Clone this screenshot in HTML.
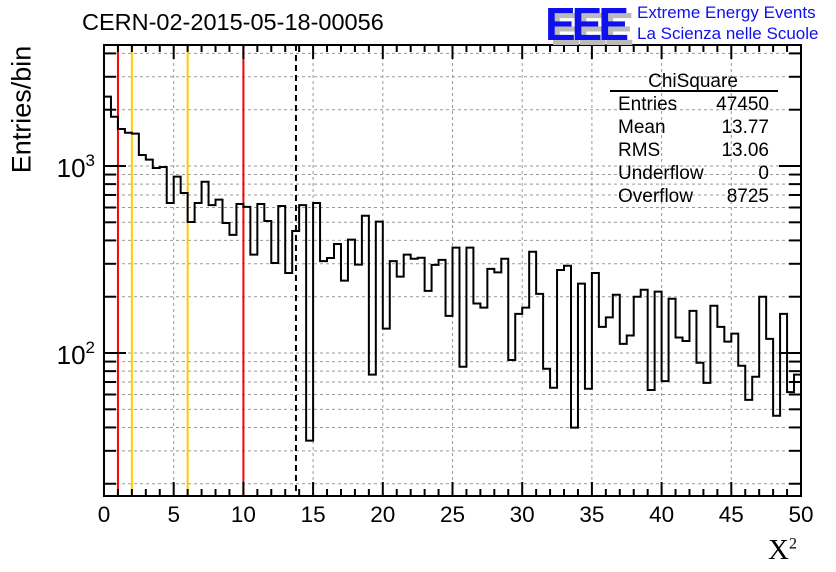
<!DOCTYPE html>
<html><head><meta charset="utf-8"><style>
html,body{margin:0;padding:0;background:#fff;}
svg{display:block;font-family:"Liberation Sans",sans-serif;}
</style></head><body>
<svg id="c" width="836" height="572" viewBox="0 0 836 572"></svg>
<script>
const binEdgesMin = 0, binEdgesMax = 50;
const counts = [2350,1835,1577,1506,1489,1145,1081,976,988,634,877,717,502,634,824,618,661,496,428,626,605,336,626,508,303,611,268,449,618,34,634,310,322,383,244,404,297,542,76.6,504,135,310,256,336,319,323,215,296,315,158,366,84.5,366,184,175,282,270,319,91.8,162,175,348,207,82.4,65.2,278,293,39.9,235,64.4,268,138,155,205,112,124,200,218,63.4,213,70.8,195,121,116,168,88.7,69.3,179,138,115,127,85.5,56.2,74.7,200,119,46.2,162,61.8,76.6];
const xTicks = [0,5,10,15,20,25,30,35,40,45,50];
const yMajor = [100,1000];
const redLines = [1,10];
const orangeLines = [2,6];
const meanLine = [13.77];
const statsLabels = ["Entries","Mean","RMS","Underflow","Overflow"];
const statsValues = ["47450","13.77","13.06","0","8725"];

const X0=104,X1=801,Y0=45,Y1=496;
const yMin=17.2,yMax=4436;
const NS="http://www.w3.org/2000/svg";
const svg=document.getElementById('c');
function sx(v){return X0+(v-binEdgesMin)/(binEdgesMax-binEdgesMin)*(X1-X0);}
function sy(v){return Y1-(Math.log10(v)-Math.log10(yMin))/(Math.log10(yMax)-Math.log10(yMin))*(Y1-Y0);}
function mk(tag,attrs,parent){const e=document.createElementNS(NS,tag);for(const k in attrs)e.setAttribute(k,attrs[k]);(parent||svg).appendChild(e);return e;}

const grid=mk('g',{});


xTicks.forEach(t=>{if(t>0&&t<50)mk('line',{x1:sx(t),x2:sx(t),y1:Y0,y2:Y1,stroke:'#999','stroke-dasharray':'3,3','stroke-width':1},grid);});
for(let d=10;d<=1000;d*=10){for(let m=1;m<10;m++){const v=d*m;if(v>yMin&&v<yMax)mk('line',{x1:X0,x2:X1,y1:sy(v),y2:sy(v),stroke:'#999','stroke-dasharray':'3,3','stroke-width':1},grid);}}

redLines.forEach(v=>{const l=mk('line',{x1:sx(v),x2:sx(v),y1:Y0,y2:Y1,stroke:'#f00','stroke-width':2});

});
orangeLines.forEach(v=>{const l=mk('line',{x1:sx(v),x2:sx(v),y1:Y0,y2:Y1,stroke:'#fc0','stroke-width':2});

});
meanLine.forEach(v=>{const l=mk('line',{x1:sx(v),x2:sx(v),y1:Y0,y2:Y1,stroke:'#000','stroke-width':2,'stroke-dasharray':'6,4'});

});

const bw=(binEdgesMax-binEdgesMin)/counts.length;
let d='M'+sx(0)+','+Y1;
counts.forEach((c,i)=>{const y=Math.min(Y1,Math.max(Y0,sy(c)));d+=' L'+sx(i*bw)+','+y+' L'+sx((i+1)*bw)+','+y;});
const h=mk('path',{d:d,fill:'none',stroke:'#000','stroke-width':2});



const fr=mk('rect',{x:X0,y:Y0,width:X1-X0,height:Y1-Y0,fill:'none',stroke:'#000','stroke-width':2});



for(let t=0;t<=50;t++){const major=t%5===0;const L=major?14:7;
mk('line',{x1:sx(t),x2:sx(t),y1:Y1,y2:Y1-L,stroke:'#000','stroke-width':2});
mk('line',{x1:sx(t),x2:sx(t),y1:Y0,y2:Y0+L,stroke:'#000','stroke-width':2});}
xTicks.forEach(t=>{const tx=mk('text',{x:sx(t),y:522,'font-size':22.5,'text-anchor':'middle'});tx.textContent=t;

});
for(let dd=10;dd<=1000;dd*=10){for(let m=1;m<10;m++){const v=dd*m;if(v>yMin&&v<yMax){const L=m===1?22:12;
mk('line',{x1:X0,x2:X0+L,y1:sy(v),y2:sy(v),stroke:'#000','stroke-width':2});
mk('line',{x1:X1,x2:X1-L,y1:sy(v),y2:sy(v),stroke:'#000','stroke-width':2});}}}
yMajor.forEach(v=>{const tx=mk('text',{x:95,y:sy(v)+11,'font-size':26,'text-anchor':'end'});
tx.innerHTML='10<tspan dy="-11" font-size="17">'+Math.round(Math.log10(v))+'</tspan>';

});

const sb=mk('g',{});


const st=mk('text',{x:693,y:87,'font-size':19,'text-anchor':'middle'},sb);st.textContent='ChiSquare';
mk('line',{x1:610,x2:778,y1:91,y2:91,stroke:'#000','stroke-width':2},sb);
statsLabels.forEach((s,i)=>{const y=110+i*23;
const a=mk('text',{x:618,y:y,'font-size':19},sb);a.textContent=s;
const b=mk('text',{x:769,y:y,'font-size':19,'text-anchor':'end'},sb);b.textContent=statsValues[i];});
</script>
<div style="position:absolute;left:82px;top:9px;font:23.5px 'Liberation Sans',sans-serif;">CERN-02-2015-05-18-00056</div>
<div style="position:absolute;left:-48px;top:94px;width:140px;transform:rotate(-90deg);font:27px 'Liberation Sans',sans-serif;text-align:center;">Entries/bin</div>
<div style="position:absolute;left:768px;top:534px;font:29px 'Liberation Serif',serif;">X<sup style="font-size:16px">2</sup></div>
<div style="position:absolute;left:545px;top:-3px;font:bold 46px 'Liberation Sans',sans-serif;letter-spacing:-4px;">
<span style="position:absolute;left:5px;top:5px;color:#bbb;">EEE</span><span style="position:relative;color:#1010ee;">EEE</span></div>
<div style="position:absolute;left:637px;top:2px;font:17px 'Liberation Sans',sans-serif;color:#1010ee;line-height:21px;">Extreme Energy Events<br>La Scienza nelle Scuole</div>
</body></html>
